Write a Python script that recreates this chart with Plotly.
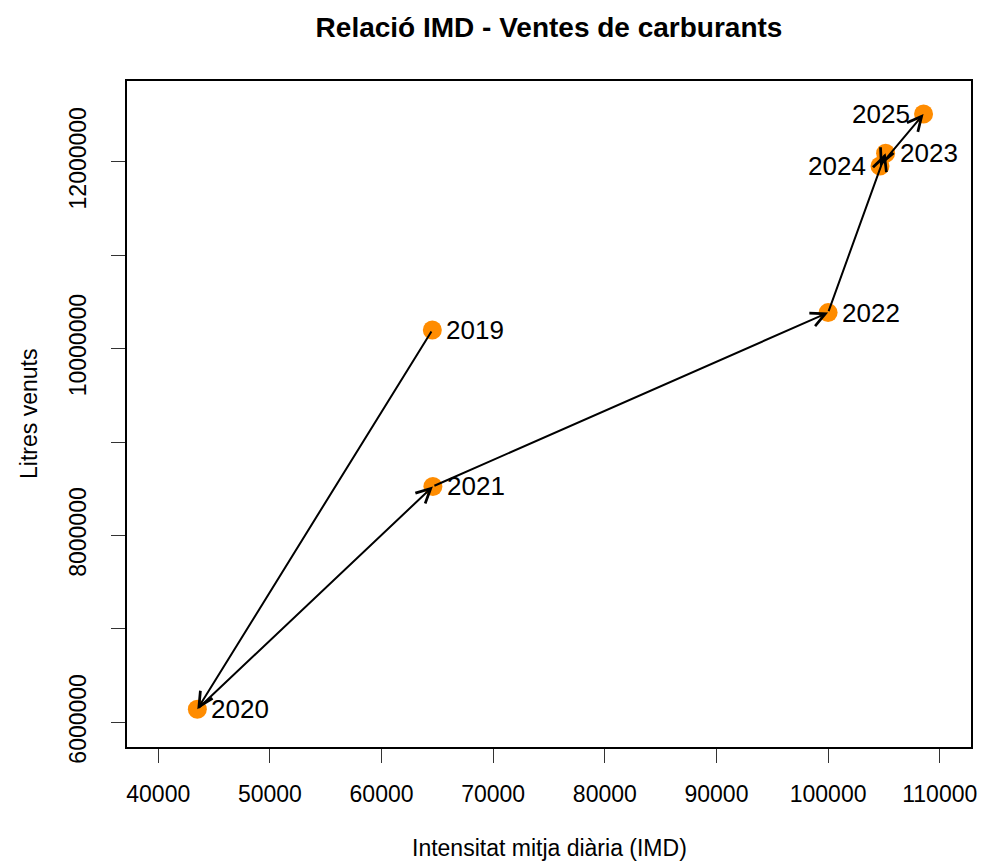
import plotly.graph_objects as go

# ---- data ----
years = [2019, 2020, 2021, 2022, 2023, 2024, 2025]
imd = [64550, 43500, 64600, 100000, 105150, 104650, 108550]
litres = [10200000, 6140000, 8525000, 10385000, 12090000, 11955000, 12510000]
label_side = ["right", "right", "right", "right", "right", "left", "left"]

x_ticks = [40000, 50000, 60000, 70000, 80000, 90000, 100000, 110000]
y_ticks = [6000000, 7000000, 8000000, 9000000, 10000000, 11000000, 12000000]
y_ticktext = ["6000000", "", "8000000", "", "10000000", "", "12000000"]

title = "Relació IMD - Ventes de carburants"
x_title = "Intensitat mitja diària (IMD)"
y_title = "Litres venuts"

FONT = "Liberation Sans, Arial, sans-serif"

fig = go.Figure()
fig.add_trace(go.Scatter(
    x=imd, y=litres, mode="markers",
    marker=dict(color="#FF8C00", size=19, line=dict(width=0)),
    hoverinfo="skip", showlegend=False,
))

annotations = []
# arrows between consecutive years
for i in range(len(years) - 1):
    annotations.append(dict(
        x=imd[i + 1], y=litres[i + 1], ax=imd[i], ay=litres[i],
        xref="x", yref="y", axref="x", ayref="y",
        showarrow=True, arrowhead=5, arrowsize=1.4, arrowwidth=2,
        arrowcolor="black", standoff=0, startstandoff=0, text="",
    ))
# year labels
for xv, yv, yr, side in zip(imd, litres, years, label_side):
    annotations.append(dict(
        x=xv, y=yv, xref="x", yref="y", text=str(yr), showarrow=False,
        xanchor="left" if side == "right" else "right",
        xshift=12 if side == "right" else -12, yanchor="middle",
        font=dict(family=FONT, size=26, color="black"),
    ))
# axis titles
annotations.append(dict(
    x=0.5, y=-(848 - 747) / 666, xref="paper", yref="paper", text=x_title,
    showarrow=False, xanchor="center", yanchor="middle",
    font=dict(family=FONT, size=23, color="black"),
))
annotations.append(dict(
    x=-(127 - 29) / 844, y=0.5, xref="paper", yref="paper", text=y_title,
    showarrow=False, xanchor="center", yanchor="middle", textangle=-90,
    font=dict(family=FONT, size=23, color="black"),
))

fig.update_layout(
    width=982, height=861,
    margin=dict(l=127, r=11, t=81, b=114, autoexpand=False),
    paper_bgcolor="white", plot_bgcolor="white",
    title=dict(text="<b>" + title + "</b>", x=0.5, xref="paper",
               y=1 - 27 / 861, yref="container", yanchor="middle",
               font=dict(family=FONT, size=28, color="black")),
    annotations=annotations,
    xaxis=dict(range=[37200, 112800], tickvals=x_ticks,
               ticktext=[str(v) for v in x_ticks], automargin=False,
               showgrid=False, zeroline=False, showline=True, mirror=True,
               linecolor="black", linewidth=1.5, ticks="outside", ticklen=14,
               tickwidth=1.2, tickcolor="#333", ticklabelstandoff=12,
               tickfont=dict(family=FONT, size=23, color="black")),
    yaxis=dict(range=[5736000, 12864000], tickvals=y_ticks, ticktext=y_ticktext,
               tickangle=-90, automargin=False,
               showgrid=False, zeroline=False, showline=True, mirror=True,
               linecolor="black", linewidth=1.5, ticks="outside", ticklen=14,
               tickwidth=1.2, tickcolor="#333", ticklabelstandoff=16,
               tickfont=dict(family=FONT, size=23, color="black")),
)

fig.write_html(
    "out.html",
    config={"displayModeBar": False},
    post_script="document.body.style.margin='0';document.body.style.padding='0';",
)
